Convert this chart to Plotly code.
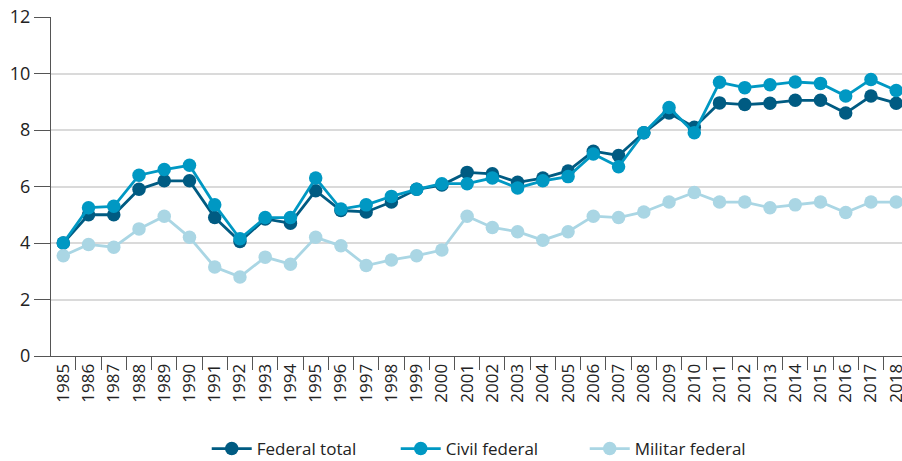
import plotly.graph_objects as go

years = [str(y) for y in range(1985, 2019)]
federal_total = [4.0, 5.0, 5.0, 5.9, 6.2, 6.2, 4.9, 4.05, 4.85, 4.7, 5.85, 5.15, 5.1, 5.45, 5.9, 6.05,
                 6.5, 6.45, 6.15, 6.3, 6.55, 7.25, 7.1, 7.9, 8.6, 8.1, 8.96, 8.9, 8.95, 9.05, 9.05, 8.6, 9.2, 8.95]
civil_federal = [4.0, 5.25, 5.3, 6.4, 6.6, 6.75, 5.35, 4.15, 4.9, 4.9, 6.3, 5.2, 5.35, 5.65, 5.9, 6.1,
                 6.1, 6.3, 5.95, 6.2, 6.35, 7.15, 6.7, 7.9, 8.8, 7.9, 9.69, 9.5, 9.6, 9.7, 9.65, 9.2, 9.79, 9.4]
militar_federal = [3.55, 3.95, 3.85, 4.5, 4.95, 4.2, 3.15, 2.8, 3.5, 3.25, 4.2, 3.9, 3.2, 3.4, 3.55, 3.75,
                   4.95, 4.55, 4.4, 4.1, 4.4, 4.95, 4.9, 5.1, 5.45, 5.79, 5.45, 5.45, 5.25, 5.35, 5.45, 5.08, 5.45, 5.45]

series = [
    ("Federal total", federal_total, "#005b82"),
    ("Civil federal", civil_federal, "#0098c3"),
    ("Militar federal", militar_federal, "#aad6e4"),
]

fig = go.Figure()
for name, vals, col in series:
    fig.add_trace(go.Scatter(
        x=years, y=vals, name=name, mode="lines+markers",
        line=dict(color=col, width=2.8),
        marker=dict(color=col, size=13.5),
    ))

fig.update_layout(
    width=902, height=461,
    margin=dict(l=51, r=0, t=17, b=105),
    paper_bgcolor="white", plot_bgcolor="white",
    font=dict(family="Open Sans, Noto Sans, sans-serif", color="#222", size=17),
    showlegend=True,
    legend=dict(orientation="h", x=0.183, xanchor="left",
                yref="container", y=0.026, yanchor="middle",
                traceorder="normal", font=dict(size=17), itemwidth=40,
                entrywidth=134),
)
fig.update_xaxes(
    type="category", range=[-0.487, 33.23], tickson="boundaries",
    ticks="outside", ticklen=13, tickcolor="#555", tickwidth=1,
    showline=True, linecolor="#555", linewidth=1.2, automargin=False,
    showgrid=False, tickangle=-90, tickfont=dict(size=17),
)
fig.update_yaxes(
    range=[0, 12], dtick=2, ticks="outside", ticklen=16, tickcolor="#555", tickwidth=1,
    showline=True, linecolor="#555", linewidth=1.2, automargin=False,
    showgrid=True, gridcolor="#dadada", gridwidth=1.5, zeroline=False,
    tickfont=dict(size=18),
)

fig.write_html("out.html", config={"displayModeBar": False},
               post_script="document.body.style.margin='0';")
